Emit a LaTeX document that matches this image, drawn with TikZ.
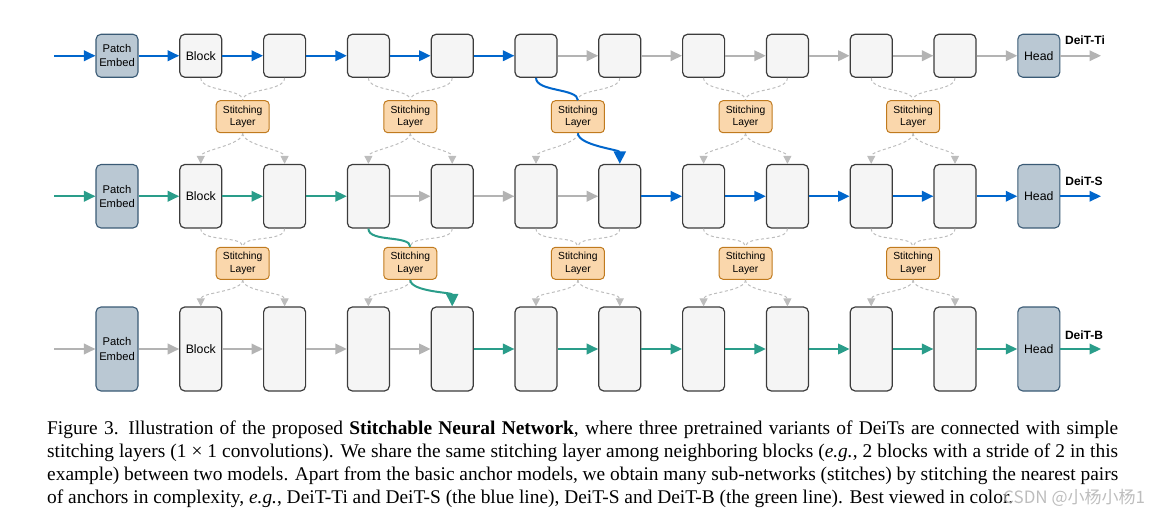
\documentclass[tikz,border=0pt]{standalone}
\usepackage{fontspec}
\setmainfont{Liberation Serif}
\newfontfamily\arialf{Liberation Sans}
\newfontfamily\cjkf{Noto Sans CJK SC}
\usetikzlibrary{arrows.meta}
\definecolor{cblue}{HTML}{0066CC}
\definecolor{cgreen}{HTML}{2A9D8A}
\definecolor{cgray}{HTML}{B3B3B3}
\definecolor{cdash}{HTML}{BDBDBD}
\definecolor{pefill}{HTML}{BAC8D3}
\definecolor{pedraw}{HTML}{3A5A75}
\definecolor{blfill}{HTML}{F5F5F5}
\definecolor{bldraw}{HTML}{3C3C3C}
\definecolor{slfill}{HTML}{FAD7AC}
\definecolor{sldraw}{HTML}{C07A1E}
\tikzset{
  pebox/.style={draw=pedraw, fill=pefill, rounded corners=5pt, line width=1.1pt,
    minimum width=42, inner sep=0pt, align=center,
    font=\arialf\fontsize{11.2}{14.4}\selectfont},
  headbox/.style={pebox, font=\arialf\fontsize{12.3}{14}\selectfont},
  blkbox/.style={draw=bldraw, fill=blfill, rounded corners=5pt, line width=1.2pt,
    minimum width=42, inner sep=0pt, align=center,
    font=\arialf\fontsize{12.3}{14}\selectfont},
  slbox/.style={draw=sldraw, fill=slfill, rounded corners=4pt, line width=1pt,
    minimum width=53, minimum height=32, inner sep=0pt, align=center,
    font=\arialf\fontsize{10.3}{12.7}\selectfont},
  flow/.style={line width=2pt, draw=#1, -{Triangle[length=11.5pt,width=10.5pt,fill=#1]}},
  dsh/.style={draw=cdash, line width=1pt, dash pattern=on 3pt off 2.5pt},
  dsharr/.style={dsh, -{Triangle[length=8pt,width=8pt,fill=cdash,color=cdash]}},
  stitchln/.style={line width=2pt, draw=#1},
  stitcharr/.style={line width=2pt, draw=#1, -{Triangle[length=12.5pt,width=12pt,fill=#1]}},
  lbl/.style={font=\arialf\bfseries\fontsize{12}{12}\selectfont, inner sep=0pt},
}
\begin{document}
\begin{tikzpicture}[x=1pt,y=-1pt]
\useasboundingbox (0,0) rectangle (1166,521);
% rows of models
\foreach \r/\y/\h in {1/55.75/43, 2/196.25/63.5, 3/349/84} {
  \node[pebox, minimum height=\h] (p\r) at (117,\y) {Patch\\Embed};
  \foreach \i in {1,...,10} {
    \node[blkbox, minimum height=\h] (b\r-\i) at ({117+83.8*\i},\y) {\ifnum\i=1 Block\fi};
  }
  \node[headbox, minimum height=\h] (h\r) at (1038.8,\y) {Head};
  \coordinate (in\r) at (54,\y);
  \coordinate (out\r) at (1101,\y);
}
% stitching layers
\foreach \L/\y in {1/116.7, 2/263.3} {
  \foreach \j in {1,...,5} {
    \node[slbox] (s\L-\j) at ({117+83.8*(2*\j-0.5)},\y) {Stitching\\Layer};
  }
}
% main flows, row 1 (DeiT-Ti)
\foreach \a/\b/\c in {in1/p1/cblue, p1/b1-1/cblue, b1-1/b1-2/cblue, b1-2/b1-3/cblue,
  b1-3/b1-4/cblue, b1-4/b1-5/cblue, b1-5/b1-6/cgray, b1-6/b1-7/cgray, b1-7/b1-8/cgray,
  b1-8/b1-9/cgray, b1-9/b1-10/cgray, b1-10/h1/cgray, h1/out1/cgray}
  \draw[flow=\c] (\a) -- (\b);
% row 2 (DeiT-S)
\foreach \a/\b/\c in {in2/p2/cgreen, p2/b2-1/cgreen, b2-1/b2-2/cgreen, b2-2/b2-3/cgreen,
  b2-3/b2-4/cgray, b2-4/b2-5/cgray, b2-5/b2-6/cgray, b2-6/b2-7/cblue, b2-7/b2-8/cblue,
  b2-8/b2-9/cblue, b2-9/b2-10/cblue, b2-10/h2/cblue, h2/out2/cblue}
  \draw[flow=\c] (\a) -- (\b);
% row 3 (DeiT-B)
\foreach \a/\b/\c in {in3/p3/cgray, p3/b3-1/cgray, b3-1/b3-2/cgray, b3-2/b3-3/cgray,
  b3-3/b3-4/cgray, b3-4/b3-5/cgreen, b3-5/b3-6/cgreen, b3-6/b3-7/cgreen, b3-7/b3-8/cgreen,
  b3-8/b3-9/cgreen, b3-9/b3-10/cgreen, b3-10/h3/cgreen, h3/out3/cgreen}
  \draw[flow=\c] (\a) -- (\b);
% dashed: blocks to stitching layers
\foreach \a/\s in {b1-1/s1-1, b1-2/s1-1, b1-3/s1-2, b1-4/s1-2, b1-6/s1-3,
  b1-7/s1-4, b1-8/s1-4, b1-9/s1-5, b1-10/s1-5,
  b2-1/s2-1, b2-2/s2-1, b2-4/s2-2, b2-5/s2-3, b2-6/s2-3,
  b2-7/s2-4, b2-8/s2-4, b2-9/s2-5, b2-10/s2-5}
  \draw[dsh] (\a.south) .. controls +(0,14) and +(0,-12) .. (\s.north);
% dashed: stitching layers to blocks
\foreach \s/\a in {s1-1/b2-1, s1-1/b2-2, s1-2/b2-3, s1-2/b2-4, s1-3/b2-5,
  s1-4/b2-7, s1-4/b2-8, s1-5/b2-9, s1-5/b2-10,
  s2-1/b3-1, s2-1/b3-2, s2-2/b3-3, s2-3/b3-5, s2-3/b3-6,
  s2-4/b3-7, s2-4/b3-8, s2-5/b3-9, s2-5/b3-10}
  \draw[dsharr] (\s.south) .. controls +(0,12) and +(0,-14) .. (\a.north);
% stitches
\draw[stitchln=cblue] (b1-5.south) .. controls +(0,14) and +(0,-12) .. (s1-3.north);
\draw[stitcharr=cblue] (s1-3.south) .. controls +(0,12) and +(0,-14) .. (b2-6.north);
\draw[stitchln=cgreen] (b2-3.south) .. controls +(0,14) and +(0,-12) .. (s2-2.north);
\draw[stitcharr=cgreen] (s2-2.south) .. controls +(0,12) and +(0,-14) .. (b3-4.north);
% labels
\node[lbl] (t1) at (1085,40) {DeiT-Ti};
\node[lbl] (t2) at (1084,181) {DeiT-S};
\node[lbl] (t3) at (1084,335) {DeiT-B};
% caption
\node[anchor=north west, inner sep=0pt, text width=1071, align=justify,
  font=\fontsize{19.4}{23.2}\selectfont] (cap) at (47,420.5) {Figure 3.\enspace Illustration of the proposed \textbf{Stitchable Neural Network}, where three pretrained variants of DeiTs are connected with simple\linebreak stitching layers (1 × 1 convolutions). We share the same stitching layer among neighboring blocks (\textit{e.g.}, 2 blocks with a stride of 2 in this\linebreak example) between two models. Apart from the basic anchor models, we obtain many sub-networks (stitches) by stitching the nearest pairs\linebreak of anchors in complexity, \textit{e.g.}, DeiT-Ti and DeiT-S (the blue line), DeiT-S and DeiT-B (the green line). Best viewed in color.};
\node[anchor=west, inner sep=0pt, font=\cjkf\fontsize{17}{17}\selectfont, text=black!30, opacity=0.85] (wm) at (1003,498) {CSDN @小杨小杨1};
\end{tikzpicture}
\end{document}
